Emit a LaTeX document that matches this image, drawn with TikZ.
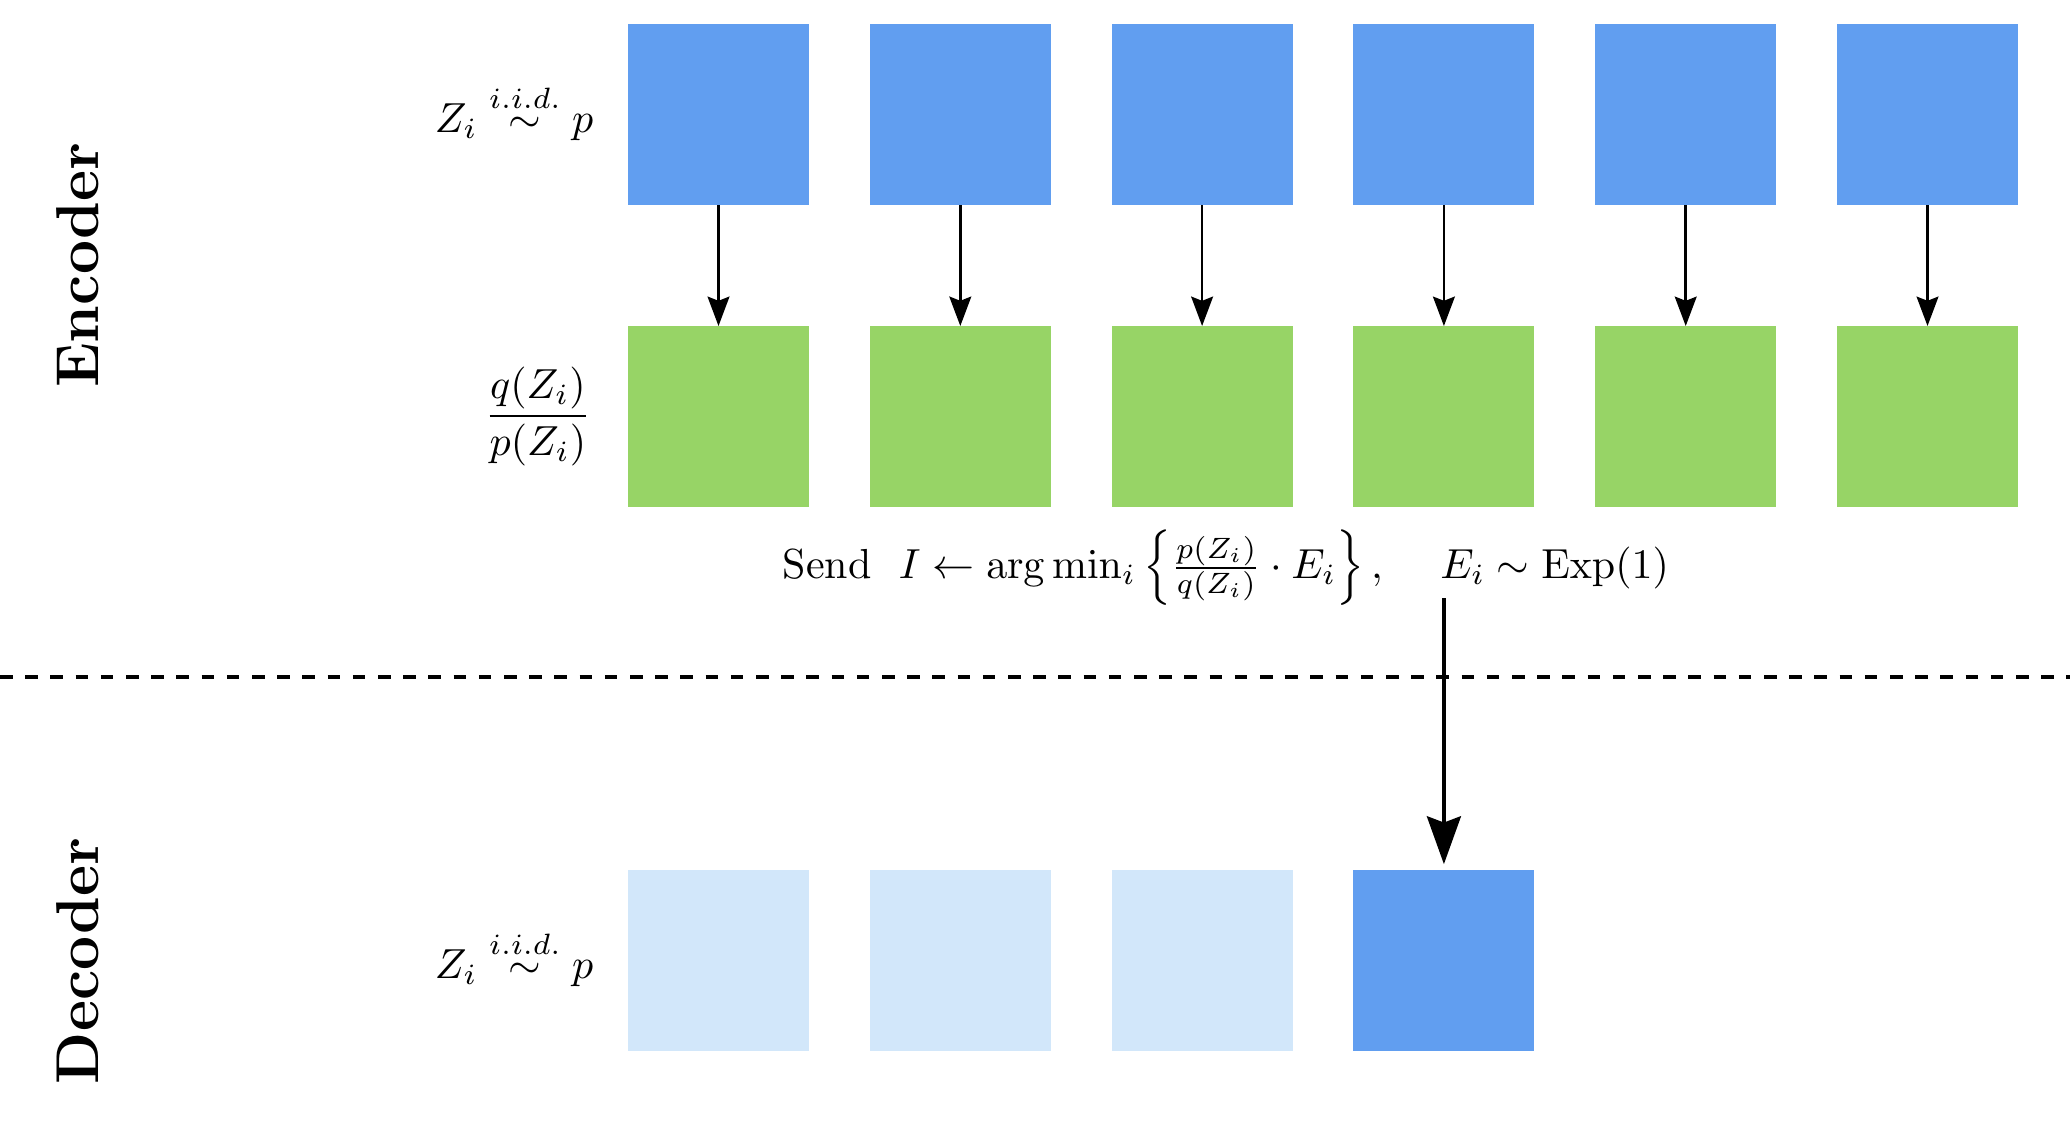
\documentclass[tikz,border=0pt]{standalone}
\usepackage{amsmath}
\usetikzlibrary{arrows.meta}
\definecolor{zblue}{RGB}{97,158,240}
\definecolor{zgreen}{RGB}{151,212,102}
\definecolor{zlight}{RGB}{210,231,250}
\begin{document}
\begin{tikzpicture}[x=0.2381pt,y=-0.2381pt,
  cell/.style={minimum width=43.1pt,minimum height=43.1pt,inner sep=0pt,outer sep=0pt},
  bluecell/.style={cell,fill=zblue},
  greencell/.style={cell,fill=zgreen},
  lightcell/.style={cell,fill=zlight},
  smallarr/.style={semithick,-{Stealth[length=7pt,width=5.2pt,inset=1pt]}},
  bigarr/.style={thick,-{Stealth[length=11.4pt,width=8.1pt,inset=1.5pt]}},
  sidelabel/.style={font=\Large\bfseries,rotate=90},
  rowlabel/.style={anchor=east,inner sep=0pt}]
\useasboundingbox (0,0) rectangle (2070,1126);
\foreach \i in {1,...,6} {
  \node[bluecell] (e\i) at ({718.5+241.8*(\i-1)},114.5) {};
  \node[greencell] (g\i) at ({718.5+241.8*(\i-1)},416.5) {};
  \draw[smallarr] (e\i) -- (g\i);
}
\node[lightcell] (d1) at (718.5,960.5) {};
\node[lightcell] (d2) at (960.3,960.5) {};
\node[lightcell] (d3) at (1202.1,960.5) {};
\node[bluecell] (d4) at (1443.9,960.5) {};
\node[rowlabel] (lz1) at (594,112) {$Z_i \overset{i.i.d.}{\sim} p$};
\node[rowlabel] (lfrac) at (592,416.5) {$\dfrac{q(Z_i)}{p(Z_i)}$};
\node[rowlabel] (lz2) at (594,958) {$Z_i \overset{i.i.d.}{\sim} p$};
\node (send) at (1226,568) {Send\hspace{6.5pt}$I \leftarrow \arg\min_i \left\{ \tfrac{p(Z_i)}{q(Z_i)} \cdot E_i \right\}, \hspace{12pt} E_i \sim \mathrm{Exp}(1)$};
\coordinate (dl) at (0,677);
\coordinate (dr) at (2070,677);
\draw[thick,dashed] (dl) -- (dr);
\coordinate (src) at (1443.9,598);
\draw[bigarr,shorten >=1.4pt] (src) -- (d4.north);
\node[sidelabel] (enc) at (77.5,265) {Encoder};
\node[sidelabel] (dec) at (77.5,961) {Decoder};
\end{tikzpicture}
\end{document}
